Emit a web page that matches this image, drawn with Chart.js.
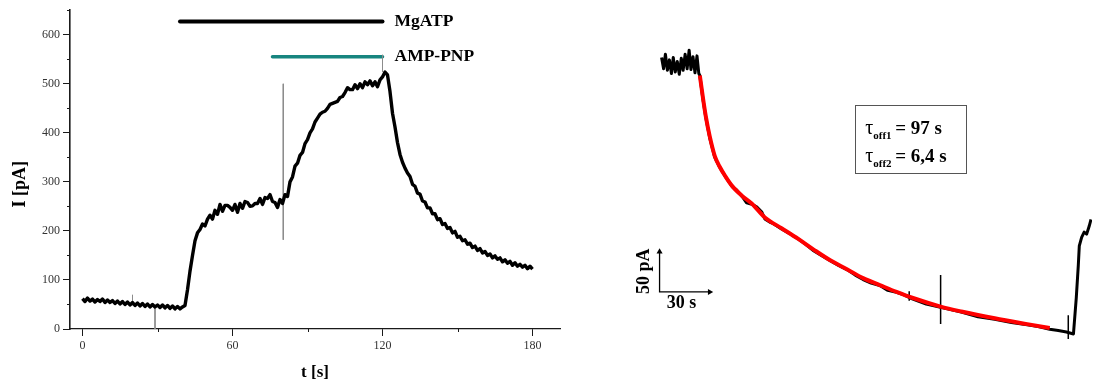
<!DOCTYPE html>
<html>
<head>
<meta charset="utf-8">
<title>MgATP / AMP-PNP current</title>
<script src="https://cdn.jsdelivr.net/npm/chart.js@4.4.1/dist/chart.umd.min.js"></script>
<style>
  html, body { margin: 0; padding: 0; background: #fff; }
  #wrap { position: relative; width: 1096px; height: 383px; overflow: hidden; }
  #left-chart { position: absolute; left: 0; top: 0; }
  #right-chart { position: absolute; left: 630px; top: 0; }
</style>
</head>
<body>
<div id="wrap">
  <canvas id="left-chart" width="600" height="383"></canvas>
  <canvas id="right-chart" width="466" height="383"></canvas>
</div>
<script>
'use strict';
var serif = '"Liberation Serif", "Times New Roman", serif';

// ---- left panel: current trace, one sample per second from t = 0
var leftSampleStep = 1;
var leftCurrent = [
  62, 56, 63, 57, 61, 55, 60, 56, 61, 54,      // 0-9
  59, 54, 58, 52, 57, 51, 56, 50, 55, 49,      // 10-19
  54, 48, 53, 47, 52, 46, 51, 45, 50, 45,      // 20-29
  49, 44, 49, 43, 48, 42, 47, 41, 46, 41,      // 30-39
  45, 48, 80, 118, 150, 180, 196, 203, 214, 210, // 40-49
  224, 232, 224, 242, 234, 254, 240, 252, 252, 248, // 50-59
  242, 254, 238, 256, 246, 260, 258, 250, 251, 256, // 60-69
  256, 266, 254, 268, 266, 274, 260, 258, 248, 264, // 70-79
  256, 274, 270, 300, 310, 332, 338, 354, 360, 378, // 80-89
  386, 400, 408, 422, 430, 438, 442, 444, 450, 458, // 90-99
  460, 462, 464, 472, 474, 482, 492, 488, 488, 498, // 100-109
  490, 500, 492, 504, 498, 506, 496, 504, 494, 508, // 110-119
  514, 524, 518, 484, 440, 412, 380, 356, 340, 328, // 120-129
  318, 311, 295, 291, 277, 275, 261, 259, 247, 247, // 130-139
  235, 235, 223, 225, 213, 215, 205, 207, 196, 199, // 140-149
  187, 189, 180, 182, 173, 175, 166, 169, 160, 164, // 150-159
  155, 158, 150, 153, 145, 149, 142, 145, 137, 141, // 160-169
  134, 138, 130, 135, 128, 132, 126, 130, 123, 128, // 170-179
  122                                              // 180
];
// thin artefact lines on the left trace
var leftSpikeTime = [20, 29, 80.3, 120];
var leftSpikeFrom = [48, 46, 500, 559];
var leftSpikeTo = [70, 0, 182, 524];

// application bars
var barNames = ['MgATP', 'AMP-PNP'];
var barStart = [39, 76];
var barEnd = [120, 120];
var barLevel = [627, 555];

var xTicks = [0, 60, 120, 180];
var xMinor = [30, 90, 150];
var yTicks = [0, 100, 200, 300, 400, 500, 600];
var yMinor = [50, 150, 250, 350, 450, 550, 650];

// ---- right panel: wash-out trace with double exponential fit (s, pA)
var rightTime = [0.6, 1.8, 2.9, 4.1, 5.3, 6.5, 7.6, 8.8, 10.0, 11.2, 12.4, 13.5, 14.7, 15.9, 17.1, 18.2, 19.4, 20.6, 21.8, 22.9,
  23.5, 25.3, 27.1, 29.4, 32.4, 35.3, 38.8, 42.9, 45.5, 48.8, 51.5, 54.7, 57.5, 60.6, 62.4, 65.3, 67.5, 72.4, 77, 82.4,
  87, 91.8, 96.5, 101.8, 106.5, 111.8, 116.5, 121.2, 126, 131.2, 136, 141.2, 146, 150.6, 159, 167.6, 173.5, 180, 190, 200,
  210, 219.4, 226, 232.9, 238, 242.9, 247.1, 248.8, 250.0, 250.6, 252, 253.5, 255, 256.5, 257.6];
var rightCurrent = [348, 334, 352, 332, 345, 328, 348, 330, 343, 327, 347, 332, 352, 334, 357, 333, 349, 329, 350, 328,
  325.6, 297, 273, 248, 224, 211.5, 199.5, 187, 183, 175, 167, 165, 162, 155.5, 147, 143, 141, 134.5, 129, 122,
  115, 107, 101, 94.5, 89, 83.5, 77, 71.5, 67, 64, 58, 55.5, 52, 47.5, 41, 37, 34, 31, 25, 22,
  18, 15, 13, 9.5, 8, 6.1, 3.7, 48.8, 89.0, 113.4, 124, 130.5, 128, 137.8, 146.3];
var fitTime = [23.5, 25.3, 27.1, 29.4, 32.4, 35.3, 38.8, 42.9, 48.8, 54.7, 62.4, 72.4, 82.4, 91.8, 101.8,
  111.8, 121.2, 131.2, 141.2, 150.6, 167.6, 180.0, 200.0, 219.4, 232.9];
var fitCurrent = [325.6, 298.8, 274.4, 250.0, 225.6, 212.2, 200.0, 187.8, 175.6, 165.9, 148.8, 135.4, 122.0, 108.5, 95.1,
  84.1, 73.2, 64.6, 56.1, 48.8, 37.8, 31.7, 23.2, 15.9, 11.0];
var rightSpikeTime = [148.8, 167.6, 244];
var rightSpikeFrom = [57, 77, 27];
var rightSpikeTo = [45, 16, -2.5];
// scale bar: 30 s and 50 pA
var scaleBarTime = [29.4, -0.6, -0.6];
var scaleBarCurrent = [56, 56, 106];
var tauLabels = [['off1', '= 97 s'], ['off2', '= 6,4 s']];

var axisColor = '#1a1a1a';

function toPoints(xs, ys) {
  var pts = [];
  for (var i = 0; i < xs.length; i++) {
    pts.push({x: xs[i], y: ys[i]});
  }
  return pts;
}
function spikePoints(times, from, to) {
  var pts = [];
  for (var i = 0; i < times.length; i++) {
    pts.push({x: times[i], y: from[i]}, {x: times[i], y: to[i]}, {x: times[i], y: null});
  }
  return pts;
}
function leftTracePoints() {
  var pts = [];
  for (var i = 0; i < leftCurrent.length; i++) {
    pts.push({x: i * leftSampleStep, y: leftCurrent[i]});
  }
  return pts;
}

var leftDecor = {
  id: 'leftDecor',
  afterDraw: function (chart) {
    var ctx = chart.ctx;
    var xs = chart.scales.x;
    var ys = chart.scales.y;
    var area = chart.chartArea;
    ctx.save();
    // minor ticks
    ctx.strokeStyle = axisColor;
    ctx.lineWidth = 1;
    ctx.beginPath();
    yMinor.forEach(function (v) {
      var py = Math.round(ys.getPixelForValue(v)) + 0.5;
      ctx.moveTo(area.left - 3, py);
      ctx.lineTo(area.left, py);
    });
    xMinor.forEach(function (v) {
      var px = Math.round(xs.getPixelForValue(v)) + 0.5;
      ctx.moveTo(px, area.bottom);
      ctx.lineTo(px, area.bottom + 3);
    });
    ctx.stroke();
    // y title
    ctx.fillStyle = '#000';
    ctx.font = 'bold 18px ' + serif;
    ctx.textAlign = 'center';
    ctx.textBaseline = 'middle';
    ctx.translate(20, ys.getPixelForValue(295));
    ctx.rotate(-Math.PI / 2);
    ctx.fillText('I [pA]', 0, 0);
    ctx.restore();
    // bar names
    ctx.save();
    ctx.fillStyle = '#000';
    ctx.font = 'bold 17.5px ' + serif;
    ctx.textAlign = 'left';
    ctx.textBaseline = 'middle';
    for (var i = 0; i < barNames.length; i++) {
      ctx.fillText(barNames[i], xs.getPixelForValue(barEnd[i] + 4.8), ys.getPixelForValue(barLevel[i]));
    }
    ctx.restore();
  }
};

var leftChart = new Chart(document.getElementById('left-chart'), {
  type: 'line',
  data: {
    datasets: [
      {
        label: 'I',
        data: leftTracePoints(),
        borderColor: '#000',
        borderWidth: 3.4,
        borderJoinStyle: 'round',
        pointRadius: 0,
        tension: 0
      },
      {
        label: 'artefacts',
        data: spikePoints(leftSpikeTime, leftSpikeFrom, leftSpikeTo),
        borderColor: '#8c8c8c',
        borderWidth: 1,
        pointRadius: 0,
        spanGaps: false
      },
      {
        label: barNames[0],
        data: toPoints([barStart[0], barEnd[0]], [barLevel[0], barLevel[0]]),
        borderColor: '#000',
        borderWidth: 4,
        borderCapStyle: 'round',
        pointRadius: 0
      },
      {
        label: barNames[1],
        data: toPoints([barStart[1], barEnd[1]], [barLevel[1], barLevel[1]]),
        borderColor: '#17857f',
        borderWidth: 3.5,
        borderCapStyle: 'round',
        pointRadius: 0
      }
    ]
  },
  options: {
    responsive: false,
    animation: false,
    layout: { padding: { left: 0, top: 10, right: 40, bottom: 0 } },
    plugins: { legend: { display: false }, tooltip: { enabled: false } },
    scales: {
      x: {
        type: 'linear',
        min: -5,
        max: 191,
        afterBuildTicks: function (scale) {
          scale.ticks = xTicks.map(function (v) { return {value: v}; });
        },
        afterFit: function (scale) { scale.height = 54; },
        border: { display: true, color: axisColor, width: 1.2 },
        grid: { display: true, drawOnChartArea: false, drawTicks: true, tickLength: 7, tickColor: axisColor },
        ticks: { color: '#333', padding: 3, maxRotation: 0, font: { family: serif, size: 12 } },
        title: { display: true, text: 't [s]', color: '#000', padding: 0, font: { family: serif, size: 17, weight: 'bold' } }
      },
      y: {
        type: 'linear',
        min: 0,
        max: 650,
        afterBuildTicks: function (scale) {
          scale.ticks = yTicks.map(function (v) { return {value: v}; });
        },
        afterFit: function (scale) { scale.width = 70; },
        border: { display: true, color: axisColor, width: 1.6 },
        grid: { display: true, drawOnChartArea: false, drawTicks: true, tickLength: 7, tickColor: axisColor },
        ticks: { color: '#333', padding: 3, font: { family: serif, size: 12 } }
      }
    }
  },
  plugins: [leftDecor]
});

var rightDecor = {
  id: 'rightDecor',
  afterDraw: function (chart) {
    var ctx = chart.ctx;
    var xs = chart.scales.x;
    var ys = chart.scales.y;
    ctx.save();
    ctx.fillStyle = '#000';
    ctx.font = 'bold 18px ' + serif;
    ctx.textAlign = 'center';
    ctx.textBaseline = 'middle';
    ctx.fillText('30 s', xs.getPixelForValue(12.6), ys.getPixelForValue(41.5));
    ctx.translate(xs.getPixelForValue(-9.5), ys.getPixelForValue(81.7));
    ctx.rotate(-Math.PI / 2);
    ctx.fillText('50 pA', 0, 0);
    ctx.restore();

    // fit result box
    var bx = xs.getPixelForValue(116.5);
    var by = ys.getPixelForValue(289);
    var bw = xs.getPixelForValue(183) - bx;
    var bh = ys.getPixelForValue(203.7) - by;
    ctx.save();
    ctx.strokeStyle = '#555';
    ctx.lineWidth = 1;
    ctx.strokeRect(Math.round(bx) + 0.5, Math.round(by) + 0.5, Math.round(bw), Math.round(bh));
    ctx.fillStyle = '#000';
    ctx.textBaseline = 'alphabetic';
    ctx.textAlign = 'left';
    for (var i = 0; i < tauLabels.length; i++) {
      var base = by + 29 + i * 28;
      ctx.font = '20px ' + serif;
      ctx.fillText('\u03c4', bx + 10, base);
      ctx.font = 'bold 11px ' + serif;
      ctx.fillText(tauLabels[i][0], bx + 18, base + 5);
      ctx.font = 'bold 19px ' + serif;
      ctx.fillText(tauLabels[i][1], bx + 40, base);
    }
    ctx.restore();
  }
};

var rightChart = new Chart(document.getElementById('right-chart'), {
  type: 'line',
  data: {
    datasets: [
      {
        label: 'fit',
        data: toPoints(fitTime, fitCurrent),
        borderColor: '#ff0000',
        borderWidth: 4,
        pointRadius: 0,
        cubicInterpolationMode: 'monotone'
      },
      {
        label: 'I',
        data: toPoints(rightTime, rightCurrent),
        borderColor: '#000',
        borderWidth: 3,
        borderJoinStyle: 'round',
        pointRadius: 0,
        tension: 0
      },
      {
        label: 'artefacts',
        data: spikePoints(rightSpikeTime, rightSpikeFrom, rightSpikeTo),
        borderColor: '#000',
        borderWidth: 1.5,
        pointRadius: 0,
        spanGaps: false
      },
      {
        label: 'scale bar',
        data: toPoints(scaleBarTime, scaleBarCurrent),
        borderColor: '#000',
        borderWidth: 1.3,
        backgroundColor: '#000',
        pointStyle: 'triangle',
        pointRadius: [3.5, 0, 3.5],
        pointRotation: [90, 0, 0],
        pointBorderWidth: 0
      }
    ]
  },
  options: {
    responsive: false,
    animation: false,
    layout: { padding: 0 },
    plugins: { legend: { display: false }, tooltip: { enabled: false } },
    scales: {
      x: { type: 'linear', display: false, min: -15.9, max: 258.2 },
      y: { type: 'linear', display: false, min: -52.4, max: 414.6 }
    }
  },
  plugins: [rightDecor]
});
</script>
</body>
</html>
